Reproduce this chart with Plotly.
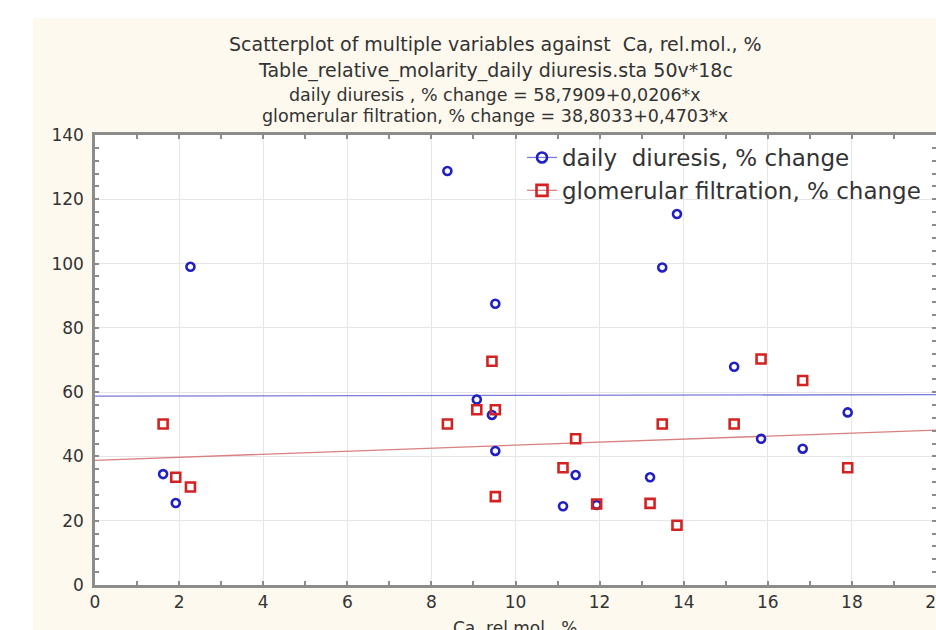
import plotly.graph_objects as go

# ---- data ----
ca_rel_mol = [1.62, 1.92, 2.27, 8.38, 9.08, 9.44, 9.52, 9.52, 11.13, 11.43,
              11.93, 13.2, 13.49, 13.84, 15.2, 15.84, 16.83, 17.9]
daily_diuresis = [34.5, 25.5, 99.0, 128.8, 57.7, 52.9, 87.5, 41.7, 24.5, 34.2,
                  24.9, 33.5, 98.8, 115.4, 67.9, 45.5, 42.4, 53.7]
glomerular_filtration = [50.1, 33.5, 30.5, 50.1, 54.5, 69.6, 54.5, 27.5, 36.5, 45.5,
                         25.2, 25.4, 50.1, 18.6, 50.1, 70.3, 63.6, 36.5]

series_names = ["daily  diuresis, % change", "glomerular filtration, % change"]
fit_intercepts = [58.7909, 38.8033]
fit_slopes = [0.0206, 0.4703]
fit_x_range = [0, 20]

x_ticks = [0, 2, 4, 6, 8, 10, 12, 14, 16, 18, 20]
y_ticks = [0, 20, 40, 60, 80, 100, 120, 140]

title_lines = [
    "Scatterplot of multiple variables against  Ca, rel.mol., %",
    "Table_relative_molarity_daily diuresis.sta 50v*18c",
    "daily diuresis , % change = 58,7909+0,0206*x",
    "glomerular filtration, % change = 38,8033+0,4703*x",
]
x_title = "Ca, rel.mol., %"

# ---- styling ----
W, H = 936, 630
L, T = 95, 135
R = 0
B = H - 585
PW, PH = W - L - R, H - T - B
FONT = "DejaVu Sans"
TXT = "#333333"
point_colors = ["#1f1fc4", "#d42222"]
line_colors = ["#7a7ad8", "#d98080"]
symbols = ["circle-open", "square-open"]
sizes = [8, 9]


def px_x(p):
    return (p - L) / PW


def px_y(p):
    return (H - B - p) / PH


fig = go.Figure()
series = [daily_diuresis, glomerular_filtration]
for i in range(2):
    fx = fit_x_range
    fy = [fit_intercepts[i] + fit_slopes[i] * v for v in fx]
    fig.add_trace(go.Scatter(x=fx, y=fy, mode="lines",
                             line=dict(color=line_colors[i], width=1.3),
                             showlegend=False, hoverinfo="skip"))
for i in range(2):
    fig.add_trace(go.Scatter(x=ca_rel_mol, y=series[i], mode="markers",
                             marker=dict(symbol=symbols[i], size=sizes[i],
                                         color=point_colors[i],
                                         line=dict(width=2.6, color=point_colors[i])),
                             showlegend=False, name=series_names[i]))
for i in range(2):
    fig.add_trace(go.Scatter(x=[None], y=[None], mode="lines+markers",
                             name=series_names[i],
                             line=dict(color=line_colors[i], width=1.3),
                             marker=dict(symbol=symbols[i], size=sizes[i] + 2,
                                         color=point_colors[i],
                                         line=dict(width=2.6, color=point_colors[i]))))

annotations = []
title_y = [44, 70, 95, 116]
title_sizes = [19, 19, 17.5, 17.5]
for t, yy, fs in zip(title_lines, title_y, title_sizes):
    annotations.append(dict(text=t, xref="paper", yref="paper",
                            x=px_x(495), y=px_y(yy), xanchor="center", yanchor="middle",
                            showarrow=False, font=dict(family=FONT, size=fs, color=TXT)))
annotations.append(dict(text=x_title, xref="paper", yref="paper",
                        x=px_x(515), y=px_y(628), xanchor="center", yanchor="middle",
                        showarrow=False, font=dict(family=FONT, size=17, color=TXT)))

shapes = [
    # white page strips outside the cream panel
    dict(type="rect", xref="paper", yref="paper", x0=px_x(-20), x1=px_x(33),
         y0=px_y(H + 20), y1=px_y(-20), fillcolor="white", line=dict(width=0), layer="below"),
    dict(type="rect", xref="paper", yref="paper", x0=px_x(-20), x1=px_x(W + 20),
         y0=px_y(18), y1=px_y(-20), fillcolor="white", line=dict(width=0), layer="below"),
]

axis_common = dict(
    showline=True, linecolor="#8c8c8c", linewidth=2.5, mirror="allticks",
    ticks="inside", ticklen=4, tickcolor="#8c8c8c", tickwidth=1.5,
    showgrid=True, gridcolor="#e6e6e6", gridwidth=1, zeroline=False,
    tickfont=dict(family=FONT, size=17, color=TXT), ticklabeloverflow="allow",
)

fig.update_layout(
    width=W, height=H,
    margin=dict(l=L, r=R, t=T, b=B, autoexpand=False),
    paper_bgcolor="#fdf9ee", plot_bgcolor="white",
    showlegend=True,
    legend=dict(x=px_x(522), y=px_y(136), xanchor="left", yanchor="top",
                bgcolor="rgba(0,0,0,0)", borderwidth=0,
                font=dict(family=FONT, size=23, color=TXT),
                tracegroupgap=0, itemwidth=30),
    xaxis=dict(range=[0, 20], tickvals=x_ticks, ticklabelstandoff=0,
               minor=dict(dtick=1, ticks="inside", ticklen=4, tickcolor="#8c8c8c",
                          showgrid=False), **axis_common),
    yaxis=dict(range=[0, 140], tickvals=y_ticks, ticklabelstandoff=5,
               minor=dict(dtick=4, ticks="inside", ticklen=4, tickcolor="#8c8c8c",
                          showgrid=False), **axis_common),
    annotations=annotations, shapes=shapes,
)

fig.write_html(
    "out.html",
    config={"displayModeBar": False},
    post_script="document.body.style.margin='0';document.body.style.overflow='hidden';",
)
